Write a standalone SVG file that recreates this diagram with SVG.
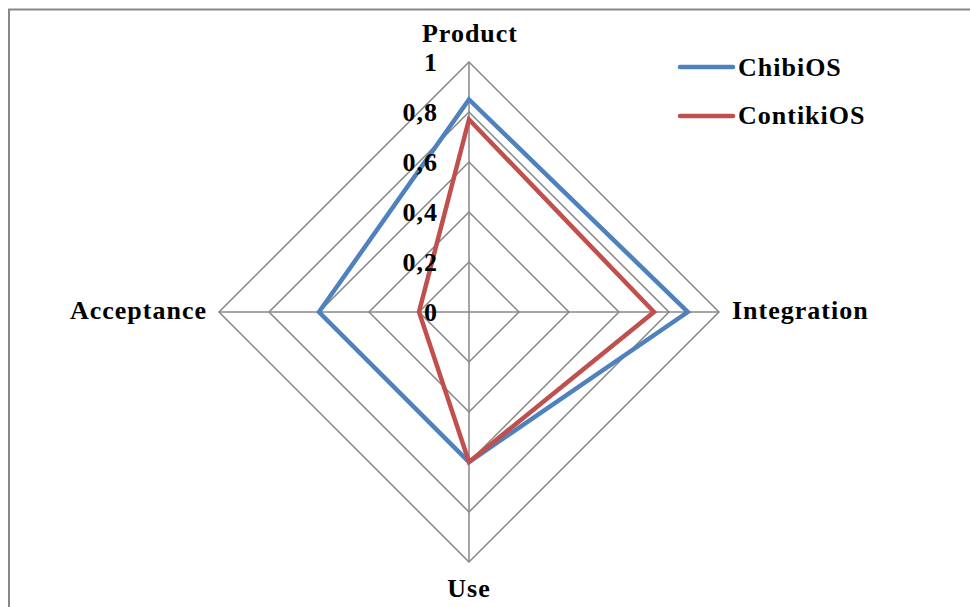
<svg xmlns="http://www.w3.org/2000/svg" width="970" height="607" viewBox="0 0 970 607">
<style>
.t{font-family:"Liberation Serif","Times New Roman",serif;font-weight:bold;font-size:26px;fill:#000;letter-spacing:1px}
.grid{fill:none;stroke:#878787;stroke-width:1.5}
.s{fill:none;stroke-width:4.5;stroke-linejoin:miter}
</style>
<rect x="0" y="0" width="970" height="607" fill="#fff"/>
<path d="M9,607 V9.5 H970" fill="none" stroke="#878787" stroke-width="2"/>
<g id="grid" class="grid">
<polygon points="469,62 719,312 469,562 219,312"/>
<polygon points="469,112 669,312 469,512 269,312"/>
<polygon points="469,162 619,312 469,462 319,312"/>
<polygon points="469,212 569,312 469,412 369,312"/>
<polygon points="469,262 519,312 469,362 419,312"/>
<line x1="469" y1="62" x2="469" y2="562"/>
<line x1="219" y1="312" x2="719" y2="312"/>
</g>
<g id="series">
<polygon id="chibios" class="s" stroke="#4F81BD" points="469,99.5 687.75,312 469,462 319,312"/>
<polygon id="contikios" class="s" stroke="#C0504D" points="469,119.5 654,312 469,462 419,312"/>
</g>
<g id="ticks" class="t" text-anchor="end">
<text x="438" y="71">1</text>
<text x="438" y="121">0,8</text>
<text x="438" y="171">0,6</text>
<text x="438" y="221">0,4</text>
<text x="438" y="271">0,2</text>
<text x="438" y="321">0</text>
</g>
<g id="axis-labels" class="t">
<text id="product" x="470" y="42" text-anchor="middle">Product</text>
<text id="integration" x="732" y="319">Integration</text>
<text id="use" x="469" y="597" text-anchor="middle">Use</text>
<text id="acceptance" x="207" y="319" text-anchor="end">Acceptance</text>
</g>
<g id="legend">
<line x1="680" y1="67" x2="733" y2="67" stroke="#4F81BD" stroke-width="4.5" stroke-linecap="round"/>
<text class="t" x="738" y="76">ChibiOS</text>
<line x1="680" y1="116" x2="733" y2="116" stroke="#C0504D" stroke-width="4.5" stroke-linecap="round"/>
<text class="t" x="738" y="124">ContikiOS</text>
</g>
</svg>
